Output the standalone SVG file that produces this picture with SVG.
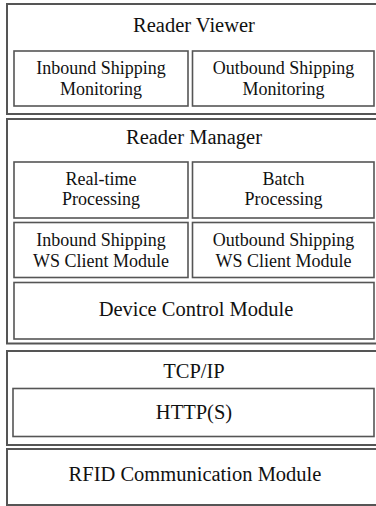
<svg xmlns="http://www.w3.org/2000/svg" width="376" height="506" viewBox="0 0 376 506" font-family="Liberation Serif, Times New Roman, serif">
<style>
.outer{fill:#fff;stroke:#555;stroke-width:2}
.inner{fill:#fff;stroke:#555;stroke-width:1.6}
text{font-family:'Liberation Serif','Times New Roman',serif;fill:#111;text-anchor:middle}
.t{font-size:20.5px}
.s{font-size:18px}
</style>
<rect width="376" height="506" fill="#fff"/>
<g id="reader-viewer">
<rect class="outer" x="7" y="4" width="375" height="110"/>
<text class="t" x="194" y="32">Reader Viewer</text>
</g>
<g id="inbound-monitoring">
<rect class="inner" x="14" y="51" width="174" height="55"/>
<text class="s" x="101" y="74">Inbound Shipping</text>
<text class="s" x="101" y="95">Monitoring</text>
</g>
<g id="outbound-monitoring">
<rect class="inner" x="192.5" y="51" width="181.5" height="55"/>
<text class="s" x="283.5" y="74">Outbound Shipping</text>
<text class="s" x="283.5" y="95">Monitoring</text>
</g>
<g id="reader-manager">
<rect class="outer" x="7" y="119" width="375" height="224.5"/>
<text class="t" x="194" y="143.5">Reader Manager</text>
</g>
<g id="realtime-processing">
<rect class="inner" x="14" y="162" width="174" height="56"/>
<text class="s" x="101" y="185">Real-time</text>
<text class="s" x="101" y="205">Processing</text>
</g>
<g id="batch-processing">
<rect class="inner" x="192.5" y="162" width="181.5" height="56"/>
<text class="s" x="283.5" y="185">Batch</text>
<text class="s" x="283.5" y="205">Processing</text>
</g>
<g id="inbound-ws">
<rect class="inner" x="14" y="222.5" width="174" height="55"/>
<text class="s" x="101" y="246">Inbound Shipping</text>
<text class="s" x="101" y="267">WS Client Module</text>
</g>
<g id="outbound-ws">
<rect class="inner" x="192.5" y="222.5" width="181.5" height="55"/>
<text class="s" x="283.5" y="246">Outbound Shipping</text>
<text class="s" x="283.5" y="267">WS Client Module</text>
</g>
<g id="device-control">
<rect class="inner" x="14" y="282.5" width="360" height="56.5"/>
<text class="t" x="196" y="316">Device Control Module</text>
</g>
<g id="tcpip">
<rect class="outer" x="7" y="351" width="375" height="94"/>
<text class="t" x="194" y="378">TCP/IP</text>
</g>
<g id="https">
<rect class="inner" x="13" y="388.5" width="361" height="48"/>
<text class="t" x="194" y="419">HTTP(S)</text>
</g>
<g id="rfid">
<rect class="outer" x="7" y="449" width="375" height="56"/>
<text class="t" x="195" y="481">RFID Communication Module</text>
</g>
<g id="connectors"></g>
</svg>
